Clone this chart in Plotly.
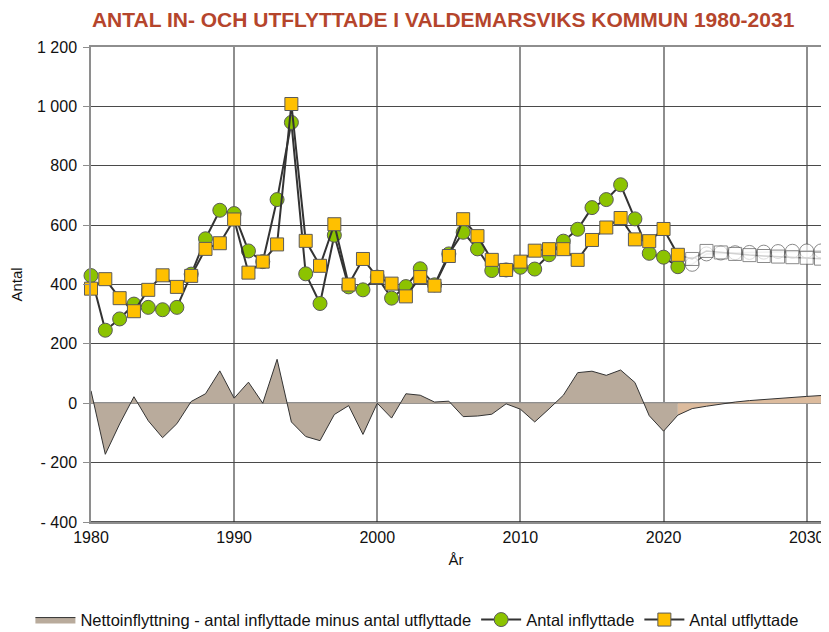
import plotly.graph_objects as go

# ---------------- data ----------------
years = list(range(1980, 2022))
inflow = [430, 246, 284, 334, 323, 315, 323, 435, 554, 650,
          639, 513, 477, 686, 946, 436, 336, 566, 392, 382,
          425, 354, 393, 453, 399, 503, 576, 520, 447, 449,
          458, 452, 500, 546, 586, 659, 686, 736, 621, 505,
          492, 460]
outflow = [386, 418, 354, 310, 382, 431, 392, 429, 520, 539,
           619, 440, 477, 535, 1008, 547, 463, 603, 400, 486,
           425, 403, 360, 425, 396, 496, 620, 563, 483, 449,
           477, 514, 519, 519, 483, 550, 592, 624, 552, 546,
           587, 500]
net = [42, -172, -70, 22, -59, -116, -69, 6, 32, 109,
       17, 71, 0, 148, -63, -112, -126, -38, -8, -105,
       0, -50, 32, 27, 4, 7, -45, -43, -37, -2,
       -20, -63, -19, 27, 103, 108, 94, 112, 70, -42,
       -94, -40]

fc_years = list(range(2021, 2032))
inflow_fc = [460, 468, 503, 506, 507, 508, 509, 511, 512, 513, 513]
outflow_fc = [500, 486, 513, 508, 503, 499, 496, 494, 492, 490, 487]
net_fc = [-40, -18, -10, -2, 4, 9, 13, 17, 20, 23, 26]

y_ticks = [-400, -200, 0, 200, 400, 600, 800, 1000, 1200]
y_tick_labels = ["- 400", "- 200", "0", "200", "400", "600", "800", "1 000", "1 200"]
x_ticks = [1980, 1990, 2000, 2010, 2020, 2030]

title = "ANTAL IN- OCH UTFLYTTADE I VALDEMARSVIKS KOMMUN 1980-2031"
name_net = "Nettoinflyttning - antal inflyttade minus antal utflyttade"
name_in = "Antal inflyttade"
name_out = "Antal utflyttade"

# ---------------- style ----------------
GREEN = "#8cc300"
YELLOW = "#ffc000"
LINE = "#333333"
EDGE = "#5a5a5a"
SANS = "Liberation Sans, Arial, sans-serif"

fig = go.Figure()

# net migration areas
fig.add_trace(go.Scatter(
    x=years, y=net, mode="lines", fill="tozeroy",
    fillcolor="#b9ab9c", line=dict(color=LINE, width=1),
    name=name_net, showlegend=True))
fig.add_trace(go.Scatter(
    x=fc_years, y=net_fc, mode="lines", fill="tozeroy",
    fillcolor="#dcbb9d", line=dict(color=LINE, width=1),
    showlegend=False, hoverinfo="skip"))

fc_sizes = [0] + [14] * (len(fc_years) - 1)
fc_sizes_sq = [0] + [13] * (len(fc_years) - 1)

# forecast lines + markers
fig.add_trace(go.Scatter(
    x=fc_years, y=inflow_fc, mode="lines+markers",
    line=dict(color="#666666", width=1.5),
    marker=dict(symbol="circle", size=fc_sizes, color="white",
                line=dict(color=EDGE, width=1)),
    showlegend=False, cliponaxis=False))
fig.add_trace(go.Scatter(
    x=fc_years, y=outflow_fc, mode="lines+markers",
    line=dict(color="#666666", width=1.5),
    marker=dict(symbol="square", size=fc_sizes_sq, color="white",
                line=dict(color=EDGE, width=1)),
    showlegend=False, cliponaxis=False))

# historical
fig.add_trace(go.Scatter(
    x=years, y=inflow, mode="lines+markers", name=name_in,
    line=dict(color=LINE, width=2),
    marker=dict(symbol="circle", size=14, color=GREEN,
                line=dict(color=EDGE, width=1)),
    cliponaxis=False))
fig.add_trace(go.Scatter(
    x=years, y=outflow, mode="lines+markers", name=name_out,
    line=dict(color=LINE, width=2),
    marker=dict(symbol="square", size=13, color=YELLOW,
                line=dict(color=EDGE, width=1)),
    cliponaxis=False))

fig.update_layout(
    width=821, height=624,
    margin=dict(l=83, r=8, t=39, b=110, autoexpand=False),
    paper_bgcolor="white", plot_bgcolor="white",
    title=dict(text="<b>" + title + "</b>", x=0.53, xanchor="center",
               y=0.981, yanchor="middle",
               font=dict(family=SANS, size=21, color="#b5452c")),
    showlegend=True,
    legend=dict(orientation="h", x=-0.083, xanchor="left",
                y=-0.206, yanchor="middle",
                font=dict(family=SANS, size=16.5, color="#111111"),
                itemwidth=40, tracegroupgap=0),
    font=dict(family=SANS, color="#111111"),
)

fig.update_xaxes(
    range=[1980, 2031], tickvals=x_ticks,
    showgrid=True, gridcolor="#8e8e8e", gridwidth=1.5,
    zeroline=False, showline=True, linecolor="#8e8e8e", linewidth=1.5,
    mirror=True, ticks="",
    tickfont=dict(family=SANS, size=16, color="#111111"),
    title=dict(text="År", font=dict(family=SANS, size=15, color="#111111"),
               standoff=10),
)
fig.update_yaxes(
    range=[-400, 1200], tickvals=y_ticks, ticktext=y_tick_labels,
    showgrid=True, gridcolor="#4a4a4a", gridwidth=1,
    zeroline=True, zerolinecolor="#8e8e8e", zerolinewidth=1.5,
    showline=True, linecolor="#8e8e8e", linewidth=1.5,
    ticks="outside", ticklen=6, tickcolor="#8e8e8e",
    ticklabelstandoff=3,
    tickfont=dict(family=SANS, size=16, color="#111111"),
    title=dict(text="Antal", font=dict(family=SANS, size=15, color="#111111"),
               standoff=24),
)
# dark bottom edge
fig.add_shape(type="line", xref="paper", yref="y", x0=0, x1=1, y0=-400, y1=-400,
              line=dict(color="#222222", width=1.5))

fig.write_html("out.html")
